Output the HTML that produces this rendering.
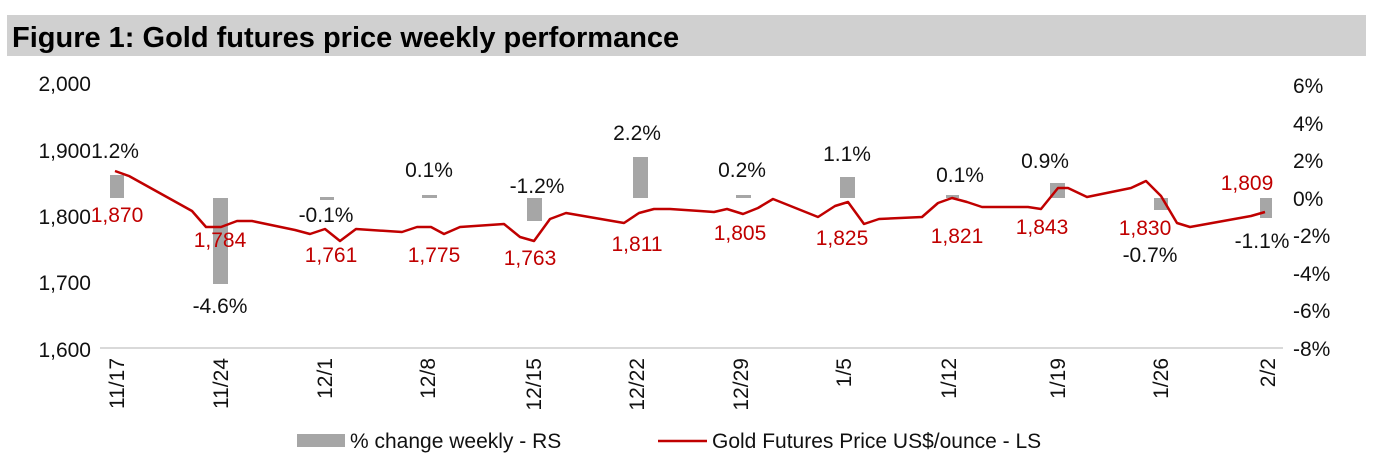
<!DOCTYPE html>
<html><head><meta charset="utf-8"><style>
body{margin:0;background:#fff;width:1378px;height:460px;overflow:hidden}
svg{font-family:"Liberation Sans",Arial,sans-serif}
</style></head><body>
<svg width="1378" height="460" xmlns="http://www.w3.org/2000/svg">
<rect x="7" y="15" width="1359" height="41" fill="#d0d0d0"/>
<text x="12" y="47" font-size="29" font-weight="bold" fill="#000">Figure 1: Gold futures price weekly performance</text>
<g font-size="21" fill="#111" text-anchor="end">
<text x="91" y="91">2,000</text><text x="91" y="158">1,900</text><text x="91" y="224">1,800</text><text x="91" y="290">1,700</text><text x="91" y="357">1,600</text>
</g>
<g font-size="21" fill="#111" text-anchor="start">
<text x="1293" y="93">6%</text><text x="1293" y="131">4%</text><text x="1293" y="168">2%</text><text x="1293" y="206">0%</text><text x="1293" y="243">-2%</text><text x="1293" y="281">-4%</text><text x="1293" y="318">-6%</text><text x="1293" y="356">-8%</text>
</g>
<line x1="100" y1="348" x2="1283" y2="348" stroke="#d9d9d9" stroke-width="2"/>
<g fill="#a6a6a6">
<rect x="110" y="175" width="14" height="23"/>
<rect x="213" y="198" width="15" height="86"/>
<rect x="320" y="197" width="14" height="3"/>
<rect x="422" y="195" width="15" height="3"/>
<rect x="527" y="198" width="15" height="23"/>
<rect x="633" y="157" width="15" height="41"/>
<rect x="736" y="195" width="15" height="3"/>
<rect x="840" y="177" width="15" height="21"/>
<rect x="946" y="195" width="13" height="3"/>
<rect x="1050" y="183" width="15" height="15"/>
<rect x="1154" y="198" width="14" height="12"/>
<rect x="1260" y="198" width="12" height="20"/>
</g>
<polyline fill="none" stroke="#c00000" stroke-width="2.5" stroke-linejoin="round" points="115,171 129,176 192,211 206,227 221,227 237,221 252,221 295,230 310,234 325,229 340,241 356,229 402,232 417,227 431,227 444,234 460,227 504,224 520,237 534,241 550,219 566,213 624,223 639,213 654,209 670,209 700,211 714,212 727,209 743,214 758,208 773,199 818,217 835,206 848,202 864,224 879,219 922,217 938,203 952,198 967,202 982,207 1028,207 1041,209 1058,188 1068,188 1087,197 1131,188 1146,181 1161,196 1177,223 1190,227 1251,216 1265,212"/>
<g font-size="21" fill="#111" text-anchor="middle">
<text x="115" y="158">1.2%</text><text x="220" y="313">-4.6%</text><text x="326" y="222">-0.1%</text><text x="429" y="177">0.1%</text><text x="537" y="193">-1.2%</text><text x="637" y="140">2.2%</text><text x="742" y="177">0.2%</text><text x="847" y="161">1.1%</text><text x="960" y="182">0.1%</text><text x="1045" y="168">0.9%</text><text x="1150" y="262">-0.7%</text><text x="1262" y="248">-1.1%</text>
</g>
<g font-size="21" fill="#c00000" text-anchor="middle">
<text x="117" y="222">1,870</text><text x="220" y="247">1,784</text><text x="331" y="262">1,761</text><text x="434" y="262">1,775</text><text x="530" y="265">1,763</text><text x="637" y="251">1,811</text><text x="740" y="240">1,805</text><text x="842" y="245">1,825</text><text x="957" y="243">1,821</text><text x="1042" y="234">1,843</text><text x="1145" y="235">1,830</text><text x="1247" y="190">1,809</text>
</g>
<g font-size="21" fill="#111" text-anchor="end">
<text transform="translate(124,358) rotate(-90)">11/17</text>
<text transform="translate(228,358) rotate(-90)">11/24</text>
<text transform="translate(332,358) rotate(-90)">12/1</text>
<text transform="translate(435,358) rotate(-90)">12/8</text>
<text transform="translate(541,358) rotate(-90)">12/15</text>
<text transform="translate(644,358) rotate(-90)">12/22</text>
<text transform="translate(748,358) rotate(-90)">12/29</text>
<text transform="translate(851,358) rotate(-90)">1/5</text>
<text transform="translate(956,358) rotate(-90)">1/12</text>
<text transform="translate(1065,358) rotate(-90)">1/19</text>
<text transform="translate(1168,358) rotate(-90)">1/26</text>
<text transform="translate(1275,358) rotate(-90)">2/2</text>
</g>
<rect x="297" y="434" width="48" height="13" fill="#a6a6a6"/>
<text x="350" y="448" font-size="21" fill="#111">% change weekly - RS</text>
<line x1="658" y1="441" x2="707" y2="441" stroke="#c00000" stroke-width="2.5"/>
<text x="712" y="448" font-size="21" fill="#111">Gold Futures Price US$/ounce - LS</text>
</svg>
</body></html>
